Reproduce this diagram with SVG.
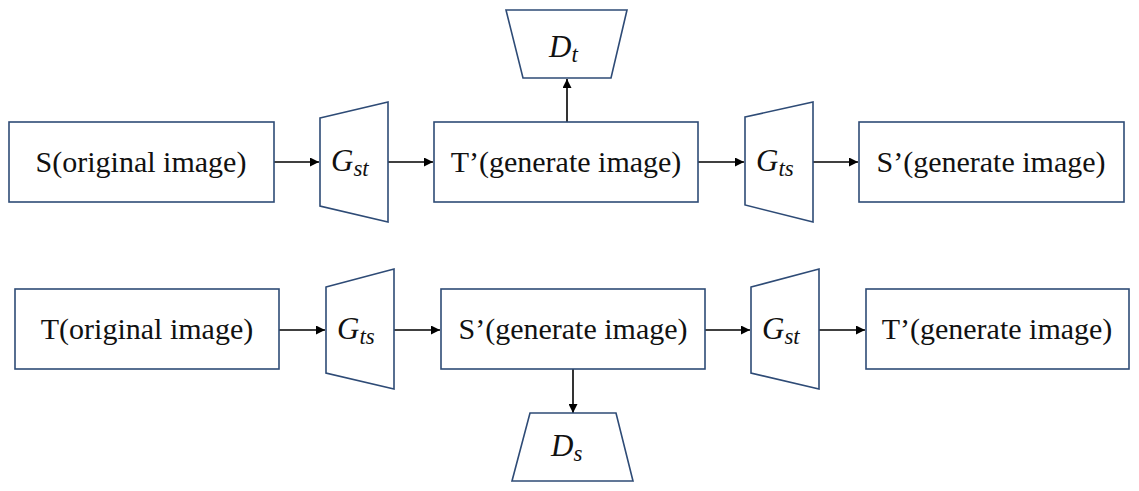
<svg xmlns="http://www.w3.org/2000/svg" width="1139" height="491" viewBox="0 0 1139 491">
<style>
.box{fill:#fff;stroke:#2E4B76;stroke-width:1.6}
.lbl{font-family:"Liberation Serif","Times New Roman",serif;font-size:30px;fill:#111;text-anchor:middle}
.m{font-family:"Liberation Serif","Times New Roman",serif;font-style:italic;font-size:31px;fill:#111}
.sub{font-size:23px}
.edge{stroke:#000;stroke-width:1.6;fill:none;marker-end:url(#ah)}
</style>
<defs>
<marker id="ah" viewBox="0 0 10 10" refX="10" refY="5" markerWidth="10" markerHeight="9" markerUnits="userSpaceOnUse" orient="auto">
<path d="M0,0 L10,5 L0,10 z" fill="#000"/>
</marker>
</defs>
<rect width="1139" height="491" fill="#fff"/>
<g id="connectors">
<line class="edge" x1="274" y1="162" x2="319" y2="162"/>
<line class="edge" x1="388" y1="162" x2="433" y2="162"/>
<line class="edge" x1="567" y1="122" x2="567" y2="79"/>
<line class="edge" x1="698" y1="162" x2="744" y2="162"/>
<line class="edge" x1="813" y1="162" x2="858" y2="162"/>
<line class="edge" x1="279" y1="330" x2="325" y2="330"/>
<line class="edge" x1="394" y1="330" x2="440" y2="330"/>
<line class="edge" x1="573" y1="369" x2="573" y2="413"/>
<line class="edge" x1="705" y1="330" x2="750" y2="330"/>
<line class="edge" x1="819" y1="330" x2="865" y2="330"/>
</g>
<g id="S">
<rect class="box" x="9" y="122" width="265" height="80"/>
<text class="lbl" x="141" y="172">S(original image)</text>
</g>
<g id="Gst1">
<polygon class="box" points="320,118 388,102 388,222 320,206"/>
<text class="m" x="331" y="171">G<tspan class="sub" dy="5">st</tspan></text>
</g>
<g id="Tp1">
<rect class="box" x="434" y="122" width="264" height="80"/>
<text class="lbl" x="566" y="172">T’(generate image)</text>
</g>
<g id="Dt">
<polygon class="box" points="506,10 627,10 611,78 523,78"/>
<text class="m" x="549" y="57">D<tspan class="sub" dy="5">t</tspan></text>
</g>
<g id="Gts1">
<polygon class="box" points="745,117 813,102 813,222 745,205"/>
<text class="m" x="756" y="171">G<tspan class="sub" dy="5">ts</tspan></text>
</g>
<g id="Sp1">
<rect class="box" x="859" y="122" width="265" height="80"/>
<text class="lbl" x="991" y="172">S’(generate image)</text>
</g>
<g id="T">
<rect class="box" x="15" y="289" width="264" height="80"/>
<text class="lbl" x="147" y="339">T(original image)</text>
</g>
<g id="Gts2">
<polygon class="box" points="326,287 394,269 394,389 326,373"/>
<text class="m" x="337" y="339">G<tspan class="sub" dy="5">ts</tspan></text>
</g>
<g id="Sp2">
<rect class="box" x="441" y="289" width="264" height="80"/>
<text class="lbl" x="573" y="339">S’(generate image)</text>
</g>
<g id="Ds">
<polygon class="box" points="530,413 616,413 633,481 512,481"/>
<text class="m" x="551" y="456">D<tspan class="sub" dy="5">s</tspan></text>
</g>
<g id="Gst2">
<polygon class="box" points="751,287 819,269 819,389 751,373"/>
<text class="m" x="762" y="339">G<tspan class="sub" dy="5">st</tspan></text>
</g>
<g id="Tp2">
<rect class="box" x="866" y="289" width="263" height="80"/>
<text class="lbl" x="997" y="339">T’(generate image)</text>
</g>
</svg>
